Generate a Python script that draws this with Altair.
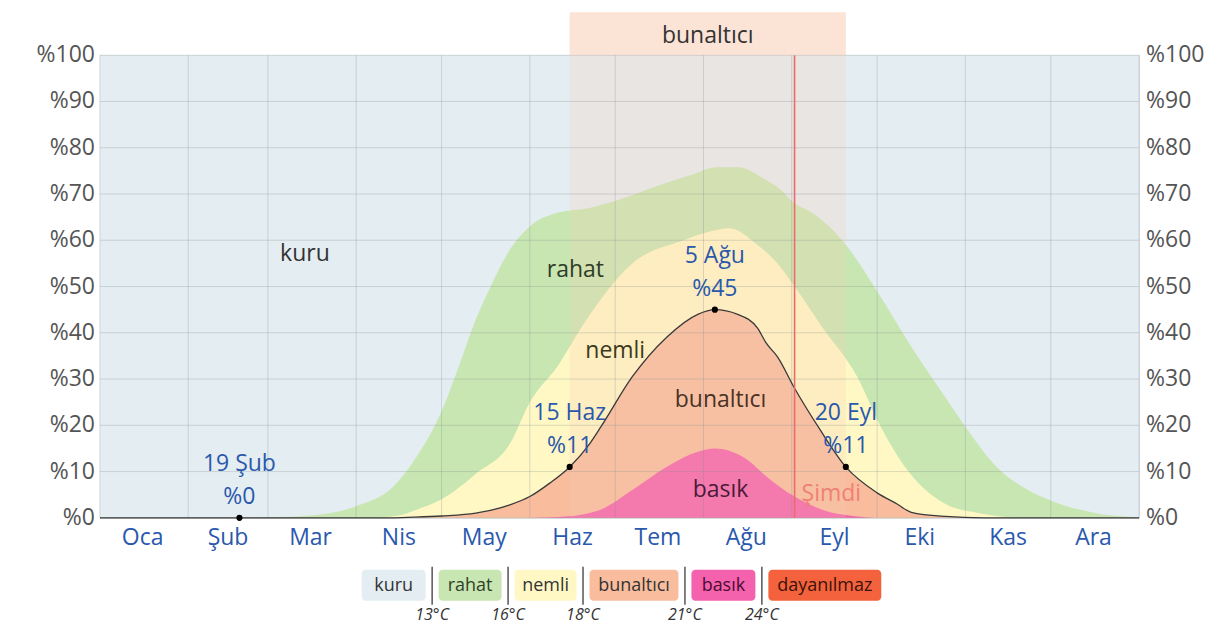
import altair as alt
import pandas as pd

# ---------------- data ----------------
# % of time with dew point above 13°C (top of the green "rahat" band)
green_days = [0, 45, 60, 74, 90, 103, 111, 120, 126, 132, 138, 144, 151, 161, 172, 182,
              197, 207, 217, 224, 234, 239, 244, 250, 262, 273, 285, 297, 304, 315, 326,
              335, 350, 365]
green_vals = [0, 0, 0.1, 0.5, 2.5, 6.7, 13, 23, 32.6, 42.8, 51, 58, 63, 66, 67, 68.7,
              72, 74, 75.8, 75.8, 73, 71, 68, 66, 59, 49, 37, 26, 19.7, 11, 6,
              3.5, 1, 0.1]

# above 16°C (top of the yellow "nemli" band)
yellow_days = [0, 95, 105, 111, 120, 126, 132, 144, 151, 161, 170, 187, 205, 215, 221,
               231, 238, 244, 254, 266, 274, 284, 297, 309, 325, 365]
yellow_vals = [0, 0, 0.5, 1.7, 4, 6.5, 9.5, 16, 25, 33, 42, 55, 60, 62, 62.6,
               59, 55, 50, 41, 30.5, 20, 10, 3, 1, 0, 0]

# above 18°C (top of the orange "bunaltıcı" band, black line)
orange_days = [0, 100, 110, 120, 132, 144, 151, 158, 165, 172, 176, 187, 199, 210, 216,
               224, 231, 234, 238, 244, 253, 262, 273, 280, 285, 297, 310, 365]
orange_vals = [0, 0, 0.15, 0.4, 1, 2.8, 4.6, 7.5, 11, 16, 19.7, 30.5, 39, 44, 45,
               44, 41, 37.8, 34.8, 28, 19, 11, 5.4, 3, 1.2, 0.3, 0, 0]

# above 21°C (top of the pink "basık" band)
pink_days = [0, 150, 158, 164, 170, 176, 187, 199, 210, 216, 222, 228, 234, 244, 254,
             263, 275, 365]
pink_vals = [0, 0, 0.1, 0.3, 0.8, 1.8, 6, 11, 14.3, 15, 14.3, 12.3, 9, 4.6, 1.7,
             0.5, 0, 0]

month_names = ["Oca", "Şub", "Mar", "Nis", "May", "Haz", "Tem", "Ağu", "Eyl", "Eki", "Kas", "Ara"]
month_starts = [0, 31, 59, 90, 120, 151, 181, 212, 243, 273, 304, 334, 365]
month_mids = [15, 45, 74, 105, 135, 166, 196, 227, 258, 288, 319, 349]
y_ticks = [0, 10, 20, 30, 40, 50, 60, 70, 80, 90, 100]
y_tick_labels = ["%" + str(v) for v in y_ticks]

marker_days = [49, 165, 216, 262]
marker_vals = [0, 11, 45, 11]
marker_dates = ["19 Şub", "15 Haz", "5 Ağu", "20 Eyl"]
marker_pcts = ["%0", "%11", "%45", "%11"]

muggy_start, muggy_end, muggy_label = 165, 262, "bunaltıcı"
now_day, now_label = 244, "Şimdi"

area_labels = ["kuru", "rahat", "nemli", "bunaltıcı", "basık"]
area_label_days = [72, 167, 181, 218, 218]
area_label_vals = [57, 53.5, 36, 25.5, 6]

legend_names = ["kuru", "rahat", "nemli", "bunaltıcı", "basık", "dayanılmaz"]
legend_temps = ["13°C", "16°C", "18°C", "21°C", "24°C"]

# ---------------- styling / layout ----------------
W, H = 1040, 463
FONT = "Open Sans"
C_KURU = "#e4edf1"
C_RAHAT = "#c8e6b1"
C_NEMLI = "#fff8c4"
C_BUNAL = "#f9bd9e"
C_BASIK = "#f461ad"
C_DAYAN = "#f4623d"
LABEL_BLUE = "#2a58ad"
area_label_colors = ["#333333", "#2f3d28", "#3a3a22", "#4a3226", "#4a1a3a"]

xs = alt.Scale(domain=[0, 365], nice=False, zero=False)
ys = alt.Scale(domain=[0, 100], nice=False)


def X(field):
    return alt.X(field, type="quantitative", scale=xs, axis=None)


def Y(field):
    return alt.Y(field, type="quantitative", scale=ys, axis=None)


def df_xy(d, v):
    return pd.DataFrame({"day": d, "val": v})


def area(d, v, color):
    return alt.Chart(df_xy(d, v)).mark_area(color=color, interpolate="monotone").encode(
        x=X("day"), y=Y("val"))


bg_df = pd.DataFrame({"s": [0], "e": [365]})
background = alt.Chart(bg_df).mark_rect(color=C_KURU).encode(
    x=X("s"), x2="e", y=alt.value(0), y2=alt.value(H))

green = area(green_days, green_vals, C_RAHAT)
yellow = area(yellow_days, yellow_vals, C_NEMLI)
orange = area(orange_days, orange_vals, C_BUNAL)
pink = area(pink_days, pink_vals, C_BASIK)

band_df = pd.DataFrame({"s": [muggy_start], "e": [muggy_end], "m": [(muggy_start + muggy_end) / 2],
                        "label": [muggy_label]})
band_overlay = alt.Chart(band_df).mark_rect(color="#f8cdb5", opacity=0.24).encode(
    x=X("s"), x2="e", y=alt.value(0), y2=alt.value(H))
band_top = alt.Chart(band_df).mark_rect(color="#f8cdb5", opacity=0.55).encode(
    x=X("s"), x2="e", y=alt.value(-43), y2=alt.value(0))
band_text = alt.Chart(band_df).mark_text(font=FONT, fontSize=23, color="#333", baseline="middle").encode(
    x=X("m"), y=alt.value(-19), text="label:N")

vgrid = alt.Chart(pd.DataFrame({"day": month_starts})).mark_rule(
    color="#7d8a92", opacity=0.28, strokeWidth=1).encode(x=X("day"), y=alt.value(0), y2=alt.value(H))
hgrid = alt.Chart(pd.DataFrame({"val": y_ticks, "s": 0, "e": 365})).mark_rule(
    color="#7d8a92", opacity=0.28, strokeWidth=1).encode(y=Y("val"), x=X("s"), x2="e")

black_line = alt.Chart(df_xy(orange_days, orange_vals)).mark_line(
    color="#3a3a3a", strokeWidth=1.3, interpolate="monotone").encode(x=X("day"), y=Y("val"))

now_df = pd.DataFrame({"day": [now_day], "label": [now_label], "v": [5.2]})
now_rule = alt.Chart(now_df).mark_rule(color="#ec6a6a", strokeWidth=1.6).encode(
    x=X("day"), y=alt.value(0), y2=alt.value(H))
now_text = alt.Chart(now_df).mark_text(font=FONT, fontSize=23, color="#f07f76", align="left",
                                       baseline="middle", dx=7).encode(
    x=X("day"), y=Y("v"), text="label:N")

mk_df = pd.DataFrame({"day": marker_days, "val": marker_vals, "date": marker_dates, "pct": marker_pcts})
dots = alt.Chart(mk_df).mark_circle(color="black", size=38, opacity=1).encode(x=X("day"), y=Y("val"))
mk_date = alt.Chart(mk_df).mark_text(font=FONT, fontSize=23, color=LABEL_BLUE, baseline="middle", dy=-54).encode(
    x=X("day"), y=Y("val"), text="date:N")
mk_pct = alt.Chart(mk_df).mark_text(font=FONT, fontSize=23, color=LABEL_BLUE, baseline="middle", dy=-21).encode(
    x=X("day"), y=Y("val"), text="pct:N")

al_df = pd.DataFrame({"day": area_label_days, "val": area_label_vals, "label": area_labels,
                      "c": area_label_colors})
area_text = alt.Chart(al_df).mark_text(font=FONT, fontSize=23, baseline="middle").encode(
    x=X("day"), y=Y("val"), text="label:N", color=alt.Color("c:N", scale=None))

# axis labels (month names at mid-month, percentages on both sides)
mon_df = pd.DataFrame({"day": month_mids, "name": month_names})
month_text = alt.Chart(mon_df).mark_text(font=FONT, fontSize=23, color=LABEL_BLUE, baseline="middle").encode(
    x=X("day"), y=alt.value(H + 20), text="name:N")
yl_df = pd.DataFrame({"val": y_ticks, "label": y_tick_labels})
ylab_left = alt.Chart(yl_df).mark_text(font=FONT, fontSize=23, color="#555", align="right",
                                       baseline="middle").encode(
    x=alt.value(-5), y=Y("val"), text="label:N")
ylab_right = alt.Chart(yl_df).mark_text(font=FONT, fontSize=23, color="#555", align="left",
                                        baseline="middle").encode(
    x=alt.value(W + 7), y=Y("val"), text="label:N")

# ---------------- custom legend (pixel layout below the plot) ----------------
chip_widths = [64, 63, 62, 89, 64, 113]
chip_colors = [C_KURU, C_RAHAT, C_NEMLI, C_BUNAL, C_BASIK, C_DAYAN]
chip_text_colors = ["#333", "#2f3f2a", "#333", "#333", "#4a0c30", "#3a1208"]
gap = 6.5
x = 262.0
rows, seps = [], []
for i, (n, w) in enumerate(zip(legend_names, chip_widths)):
    rows.append({"name": n, "x1": x, "x2": x + w, "xc": x + w / 2,
                 "fill": chip_colors[i], "tc": chip_text_colors[i]})
    x += w
    if i < len(legend_temps):
        x += gap
        seps.append({"xs": x, "temp": legend_temps[i]})
        x += gap
leg_df = pd.DataFrame(rows)
sep_df = pd.DataFrame(seps)

chips = alt.Chart(leg_df).mark_rect(cornerRadius=4).encode(
    x=alt.X("x1:Q", scale=None, axis=None), x2="x2:Q", y=alt.value(515), y2=alt.value(546),
    color=alt.Color("fill:N", scale=None))
chip_text = alt.Chart(leg_df).mark_text(font=FONT, fontSize=18, baseline="middle").encode(
    x=alt.X("xc:Q", scale=None, axis=None), y=alt.value(531), text="name:N",
    color=alt.Color("tc:N", scale=None))
sep_rules = alt.Chart(sep_df).mark_rule(color="#555", strokeWidth=1.5).encode(
    x=alt.X("xs:Q", scale=None, axis=None), y=alt.value(512), y2=alt.value(550))
sep_text = alt.Chart(sep_df).mark_text(font=FONT, fontSize=16, fontStyle="italic", color="#333",
                                       baseline="middle").encode(
    x=alt.X("xs:Q", scale=None, axis=None), y=alt.value(560), text="temp:N")

chart = alt.layer(
    background, green, yellow, orange, pink, band_overlay, vgrid, hgrid, black_line, now_rule, now_text,
    dots, mk_date, mk_pct, area_text, band_top, band_text, month_text, ylab_left, ylab_right,
    chips, chip_text, sep_rules, sep_text,
).properties(
    width=W, height=H,
    autosize=alt.AutoSizeParams(type="none"),
    padding={"left": 92, "top": 47, "right": 72, "bottom": 110},
).configure_view(stroke=None).configure(background="white")

chart.save("out.html", embed_options={"renderer": "svg", "actions": False})
